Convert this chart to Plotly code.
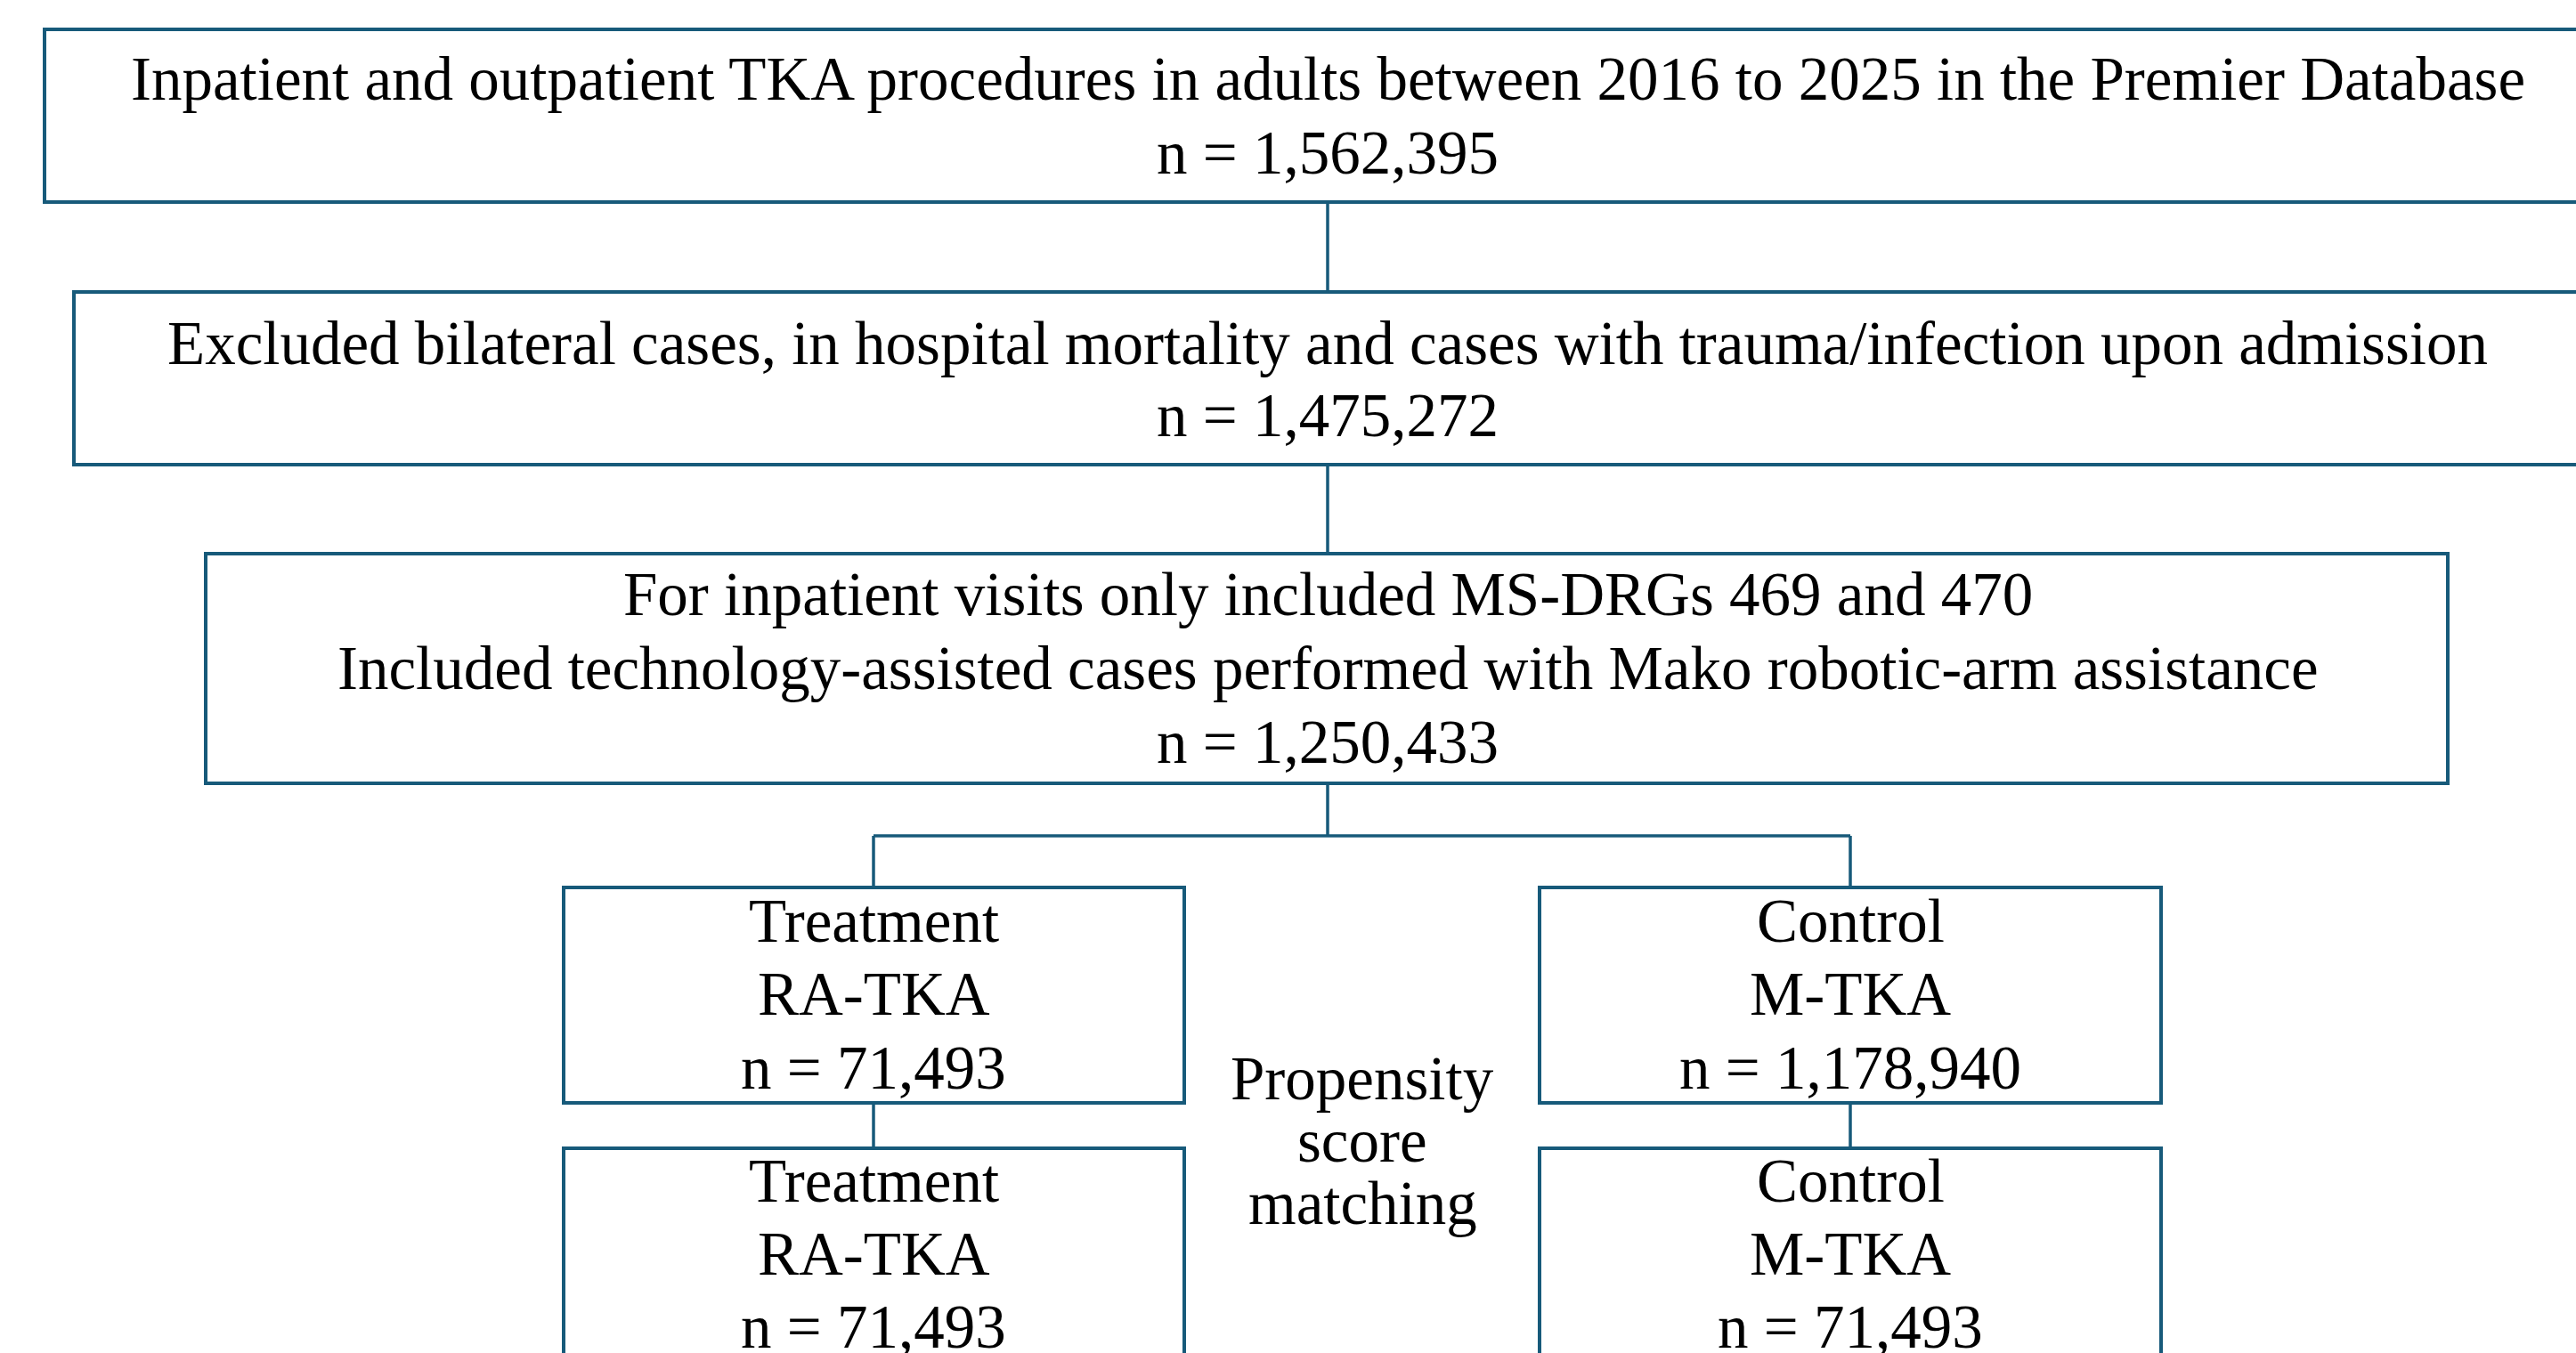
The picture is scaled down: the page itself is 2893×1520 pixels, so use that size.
import plotly.graph_objects as go

W, H = 2893, 1520

# ---- data ----
step_texts = [
    "Inpatient and outpatient TKA procedures in adults between 2016 to 2025 in the Premier Database",
    "Excluded bilateral cases, in hospital mortality and cases with trauma/infection upon admission",
    "For inpatient visits only included MS-DRGs 469 and 470<br>Included technology-assisted cases performed with Mako robotic-arm assistance",
]
step_counts = ["1,562,395", "1,475,272", "1,250,433"]
group_labels = ["Treatment", "Control"]
group_types = ["RA-TKA", "M-TKA"]
pre_match_counts = ["71,493", "1,178,940"]
post_match_counts = ["71,493", "71,493"]
middle_label = ["Propensity", "score", "matching"]

# ---- styling / layout ----
LINE = "#175a7a"
FONT = "Liberation Serif"
FS = 69

fig = go.Figure()
fig.add_trace(go.Scatter(x=[0, W], y=[0, H], mode="markers",
                         marker=dict(opacity=0), hoverinfo="skip", showlegend=False))

shapes = []
def box(x0, y0, x1, y1):
    shapes.append(dict(type="rect", xref="x", yref="y", x0=x0, y0=y0, x1=x1, y1=y1,
                       line=dict(color=LINE, width=4), fillcolor="rgba(0,0,0,0)"))
def seg(x0, y0, x1, y1):
    shapes.append(dict(type="line", xref="x", yref="y", x0=x0, y0=y0, x1=x1, y1=y1,
                       line=dict(color=LINE, width=3.5)))

anns = []
def txt(x, y, t, size=FS):
    anns.append(dict(x=x, y=y, xref="x", yref="y", text=t, showarrow=False,
                     font=dict(family=FONT, size=size, color="#000000"),
                     xanchor="center", yanchor="middle"))

CX = 1491
# top steps
step_boxes = [(50, 33, 2935, 227), (83, 328, 2899, 522), (231, 622, 2749, 880)]
for (x0, y0, x1, y1) in step_boxes:
    box(x0, y0, x1, y1)

# step 1 / 2 text
for i, (ys) in enumerate([(89, 172), (386, 467)]):
    txt(CX, ys[0], step_texts[i])
    txt(CX, ys[1], "n = " + step_counts[i])
# step 3 text
l3 = step_texts[2].split("<br>")
txt(CX, 668, l3[0])
txt(CX, 751, l3[1])
txt(CX, 834, "n = " + step_counts[2])

# connectors
seg(CX, 227, CX, 328)
seg(CX, 522, CX, 622)
seg(CX, 880, CX, 939)
gx = [981, 2078]
seg(gx[0], 939, gx[1], 939)
for x in gx:
    seg(x, 939, x, 997)
    seg(x, 1239, x, 1290)

# group boxes
gb = [(633, 1330), (1729, 2427)]
for i, (x0, x1) in enumerate(gb):
    box(x0, 997, x1, 1239)
    box(x0, 1290, x1, 1600)
    cx = gx[i]
    txt(cx, 1035, group_labels[i])
    txt(cx, 1117, group_types[i])
    txt(cx, 1200, "n = " + pre_match_counts[i])
    txt(cx, 1327, group_labels[i])
    txt(cx, 1409, group_types[i])
    txt(cx, 1491, "n = " + post_match_counts[i])

for j, t in enumerate(middle_label):
    txt(1530, 1212 + 70 * j, t)

fig.update_layout(
    width=W, height=H,
    margin=dict(l=0, r=0, t=0, b=0),
    paper_bgcolor="white", plot_bgcolor="white",
    xaxis=dict(range=[0, W], visible=False, fixedrange=True),
    yaxis=dict(range=[H, 0], visible=False, fixedrange=True),
    shapes=shapes, annotations=anns, showlegend=False,
)
fig.write_html("out.html", config={"displayModeBar": False},
               post_script="document.body.style.margin='0';document.body.style.overflow='hidden';")
